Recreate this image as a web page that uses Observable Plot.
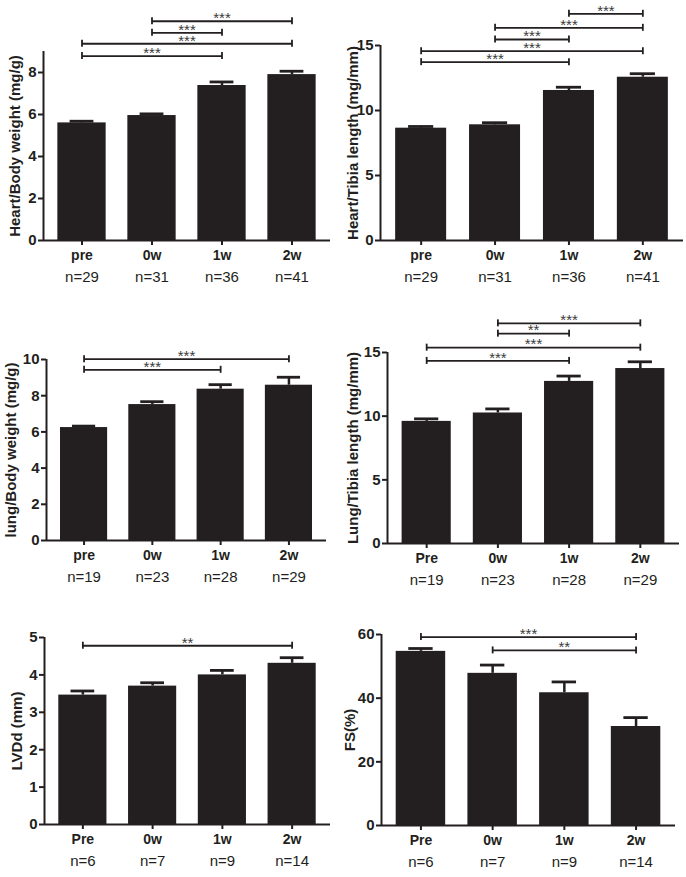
<!DOCTYPE html>
<html>
<head>
<meta charset="utf-8">
<script src="https://cdn.jsdelivr.net/npm/d3@7"></script>
<script src="https://cdn.jsdelivr.net/npm/@observablehq/plot@0.6"></script>
<style>
  body { margin: 0; background: #fff; }
  #fig { position: relative; width: 686px; height: 877px; overflow: hidden; background: #fff; }
  .panel { position: absolute; }
</style>
</head>
<body>
<div id="fig"></div>
<script>
// ---------- data ----------
const groupsLower = ["pre", "0w", "1w", "2w"];
const groupsUpper = ["Pre", "0w", "1w", "2w"];

const heartBodyTitle = "Heart/Body weight (mg/g)";
const heartBodyMean = [5.6, 5.95, 7.38, 7.9];
const heartBodySem = [0.08, 0.08, 0.17, 0.16];
const heartBodyN = [29, 31, 36, 41];
const heartBodyTicks = [0, 2, 4, 6, 8];
const heartBodyMax = 9;
const heartBodySig = [[1, 3, 10.44, "***"], [1, 2, 9.89, "***"], [0, 3, 9.37, "***"], [0, 2, 8.78, "***"]];

const heartTibiaTitle = "Heart/Tibia length (mg/mm)";
const heartTibiaMean = [8.64, 8.9, 11.54, 12.56];
const heartTibiaSem = [0.13, 0.16, 0.25, 0.27];
const heartTibiaN = [29, 31, 36, 41];
const heartTibiaTicks = [0, 5, 10, 15];
const heartTibiaMax = 15;
const heartTibiaSig = [[2, 3, 17.44, "***"], [1, 3, 16.36, "***"], [1, 2, 15.46, "***"], [0, 3, 14.56, "***"], [0, 2, 13.72, "***"]];

const lungBodyTitle = "lung/Body weight (mg/g)";
const lungBodyMean = [6.24, 7.51, 8.36, 8.58];
const lungBodySem = [0.08, 0.16, 0.25, 0.44];
const lungBodyN = [19, 23, 28, 29];
const lungBodyTicks = [0, 2, 4, 6, 8, 10];
const lungBodyMax = 10;
const lungBodySig = [[0, 3, 10.02, "***"], [0, 2, 9.43, "***"]];

const lungTibiaTitle = "Lung/Tibia length (mg/mm)";
const lungTibiaMean = [9.59, 10.25, 12.73, 13.74];
const lungTibiaSem = [0.2, 0.32, 0.42, 0.53];
const lungTibiaN = [19, 23, 28, 29];
const lungTibiaTicks = [0, 5, 10, 15];
const lungTibiaMax = 15;
const lungTibiaSig = [[1, 3, 17.29, "***"], [1, 2, 16.48, "**"], [0, 3, 15.38, "***"], [0, 2, 14.34, "***"]];

const lvddTitle = "LVDd (mm)";
const lvddMean = [3.46, 3.7, 4.0, 4.31];
const lvddSem = [0.11, 0.09, 0.12, 0.15];
const lvddN = [6, 7, 9, 14];
const lvddTicks = [0, 1, 2, 3, 4, 5];
const lvddMax = 5;
const lvddSig = [[0, 3, 4.78, "**"]];

const fsTitle = "FS(%)";
const fsMean = [54.7, 47.8, 41.7, 31.1];
const fsSem = [0.9, 2.6, 3.4, 2.8];
const fsN = [6, 7, 9, 14];
const fsTicks = [0, 20, 40, 60];
const fsMax = 60;
const fsSig = [[0, 3, 59.2, "***"], [1, 3, 55.0, "**"]];

// ---------- layout / style ----------
const ink = "#231f20";
const font = "'Liberation Sans', Arial, Helvetica, sans-serif";
const xDomain = [-0.55, 3.55];
const barHalf = 0.345;
const capHalf = 0.17;

const panels = [
  {title: heartBodyTitle, groups: groupsLower, mean: heartBodyMean, sem: heartBodySem, n: heartBodyN, ticks: heartBodyTicks, yMax: heartBodyMax, sig: heartBodySig,
   left: 0, top: 0, height: 290, mL: 43, mR: 13, mT: 51, mB: 50, titleDx: -28},
  {title: heartTibiaTitle, groups: groupsLower, mean: heartTibiaMean, sem: heartTibiaSem, n: heartTibiaN, ticks: heartTibiaTicks, yMax: heartTibiaMax, sig: heartTibiaSig,
   left: 343, top: 0, height: 290, mL: 37, mR: 3, mT: 45, mB: 50, titleDx: -27},
  {title: lungBodyTitle, groups: groupsLower, mean: lungBodyMean, sem: lungBodySem, n: lungBodyN, ticks: lungBodyTicks, yMax: lungBodyMax, sig: lungBodySig,
   left: 0, top: 290, height: 290, mL: 46, mR: 17, mT: 69, mB: 40, titleDx: -35},
  {title: lungTibiaTitle, groups: groupsUpper, mean: lungTibiaMean, sem: lungTibiaSem, n: lungTibiaN, ticks: lungTibiaTicks, yMax: lungTibiaMax, sig: lungTibiaSig,
   left: 343, top: 290, height: 290, mL: 44, mR: 7, mT: 62, mB: 37, titleDx: -34},
  {title: lvddTitle, groups: groupsUpper, mean: lvddMean, sem: lvddSem, n: lvddN, ticks: lvddTicks, yMax: lvddMax, sig: lvddSig,
   left: 0, top: 580, height: 297, mL: 44, mR: 13, mT: 57, mB: 53, titleDx: -27},
  {title: fsTitle, groups: groupsUpper, mean: fsMean, sem: fsSem, n: fsN, ticks: fsTicks, yMax: fsMax, sig: fsSig,
   left: 343, top: 580, height: 297, mL: 38, mR: 11, mT: 54, mB: 52, titleDx: -31}
];

const fig = document.getElementById("fig");

for (const p of panels) {
  const rows = p.groups.map((g, i) => ({i, g, mean: p.mean[i], sem: p.sem[i], n: p.n[i]}));
  const sig = p.sig.map(([a, b, level, label]) => ({a, b, level, label}));

  const chart = Plot.plot({
    width: 343,
    height: p.height,
    marginLeft: p.mL,
    marginRight: p.mR,
    marginTop: p.mT,
    marginBottom: p.mB,
    style: {fontFamily: font, color: ink, background: "transparent", overflow: "visible"},
    x: {type: "linear", domain: xDomain},
    y: {type: "linear", domain: [0, p.yMax]},
    marks: [
      // bars
      Plot.rect(rows, {x1: d => d.i - barHalf, x2: d => d.i + barHalf, y1: 0, y2: "mean", fill: ink}),
      // error bars (SEM, upward)
      Plot.ruleX(rows, {x: "i", y1: "mean", y2: d => d.mean + d.sem, stroke: ink, strokeWidth: 2.5}),
      Plot.ruleY(rows, {y: d => d.mean + d.sem, x1: d => d.i - capHalf, x2: d => d.i + capHalf, stroke: ink, strokeWidth: 2.8}),
      // axis lines
      Plot.ruleY([0], {stroke: ink, strokeWidth: 2}),
      Plot.ruleX([xDomain[0]], {y1: 0, y2: p.yMax, stroke: ink, strokeWidth: 2}),
      // axes
      Plot.axisY({ticks: p.ticks, tickFormat: d => String(d), tickSize: 5, tickPadding: 2, fontSize: 15, fontWeight: "bold", strokeWidth: 2, label: null}),
      Plot.axisX({ticks: rows.map(d => d.i), tickFormat: i => p.groups[i], tickSize: 5, tickPadding: 5, fontSize: 14, fontWeight: "bold", strokeWidth: 2, label: null}),
      // sample sizes
      Plot.text(rows, {x: "i", text: d => "n=" + d.n, frameAnchor: "bottom", dy: 41, fontSize: 15, fill: ink}),
      // y title
      Plot.text([p.title], {text: d => d, frameAnchor: "left", textAnchor: "middle", lineAnchor: "middle", rotate: -90, dx: p.titleDx, fontSize: 15, fontWeight: "bold", fill: ink}),
      // significance brackets
      Plot.link(sig, {x1: "a", x2: "b", y1: "level", y2: "level", stroke: ink, strokeWidth: 1.8}),
      Plot.ruleX(sig, {x: "a", y1: "level", y2: "level", insetTop: -3.5, insetBottom: -3.5, stroke: ink, strokeWidth: 1.8}),
      Plot.ruleX(sig, {x: "b", y1: "level", y2: "level", insetTop: -3.5, insetBottom: -3.5, stroke: ink, strokeWidth: 1.8}),
      Plot.text(sig, {x: d => (d.a + d.b) / 2, y: "level", text: "label", dy: -3, fontSize: 15, fill: "#3a3a3a"})
    ]
  });

  const div = document.createElement("div");
  div.className = "panel";
  div.style.left = p.left + "px";
  div.style.top = p.top + "px";
  div.appendChild(chart);
  fig.appendChild(div);
}
</script>
</body>
</html>
